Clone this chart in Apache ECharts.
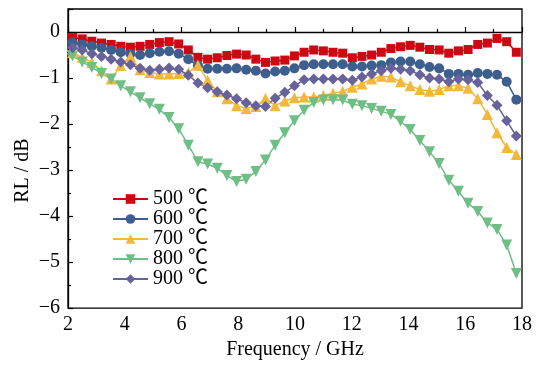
<!DOCTYPE html>
<html>
<head>
<meta charset="utf-8">
<script src="https://cdn.jsdelivr.net/npm/echarts@6/dist/echarts.min.js"></script>
<style>
html,body{margin:0;padding:0;background:#fff;}
#chart{width:539px;height:365px;}
</style>
</head>
<body>
<div id="chart"></div>
<script>
var freq = [1.82, 2.16, 2.50, 2.84, 3.18, 3.52, 3.86, 4.20, 4.54, 4.88, 5.22, 5.56, 5.90, 6.24, 6.58, 6.92,
  7.26, 7.60, 7.94, 8.28, 8.62, 8.96, 9.30, 9.64, 9.98, 10.32, 10.66, 11.00, 11.34, 11.68, 12.02, 12.36,
  12.70, 13.04, 13.38, 13.72, 14.06, 14.40, 14.74, 15.08, 15.42, 15.76, 16.10, 16.44, 16.78, 17.12, 17.46, 17.80];

var rl500 = [-0.07, -0.12, -0.15, -0.20, -0.24, -0.27, -0.31, -0.33, -0.31, -0.27, -0.23, -0.21, -0.26, -0.39, -0.55, -0.59,
  -0.56, -0.51, -0.48, -0.50, -0.59, -0.66, -0.63, -0.61, -0.52, -0.44, -0.39, -0.41, -0.44, -0.46, -0.56, -0.53,
  -0.50, -0.44, -0.36, -0.32, -0.29, -0.33, -0.38, -0.39, -0.46, -0.41, -0.38, -0.27, -0.24, -0.14, -0.21, -0.44];

var rl600 = [-0.18, -0.23, -0.27, -0.31, -0.34, -0.39, -0.44, -0.47, -0.50, -0.46, -0.43, -0.42, -0.47, -0.59, -0.73, -0.80,
  -0.80, -0.80, -0.79, -0.82, -0.84, -0.90, -0.86, -0.84, -0.79, -0.72, -0.70, -0.70, -0.70, -0.70, -0.75, -0.75,
  -0.73, -0.72, -0.66, -0.64, -0.64, -0.70, -0.76, -0.79, -0.91, -0.91, -0.93, -0.89, -0.91, -0.93, -1.08, -1.47];

var rl700 = [-0.38, -0.45, -0.55, -0.66, -0.84, -1.02, -0.73, -0.53, -0.82, -0.88, -0.91, -0.91, -0.90, -0.88, -0.72, -1.05,
  -1.30, -1.45, -1.60, -1.66, -1.62, -1.44, -1.60, -1.50, -1.43, -1.41, -1.41, -1.38, -1.33, -1.29, -1.20, -1.13,
  -1.02, -0.96, -0.98, -1.08, -1.17, -1.25, -1.29, -1.25, -1.17, -1.17, -1.22, -1.45, -1.79, -2.19, -2.51, -2.66];

var rl800 = [-0.44, -0.52, -0.65, -0.77, -0.90, -1.02, -1.17, -1.30, -1.43, -1.56, -1.68, -1.86, -2.10, -2.46, -2.82, -2.87,
  -2.96, -3.12, -3.25, -3.20, -3.03, -2.78, -2.46, -2.19, -1.93, -1.70, -1.53, -1.48, -1.47, -1.48, -1.57, -1.60,
  -1.66, -1.72, -1.79, -1.94, -2.12, -2.36, -2.60, -2.86, -3.22, -3.46, -3.72, -3.90, -4.15, -4.29, -4.63, -5.25];

var rl900 = [-0.28, -0.34, -0.39, -0.47, -0.53, -0.59, -0.65, -0.71, -0.79, -0.83, -0.81, -0.78, -0.81, -0.94, -1.11, -1.21,
  -1.30, -1.37, -1.45, -1.54, -1.60, -1.62, -1.44, -1.31, -1.17, -1.04, -1.02, -1.02, -1.02, -1.02, -1.05, -0.98,
  -0.91, -0.84, -0.79, -0.81, -0.84, -0.93, -1.00, -1.02, -1.08, -1.02, -1.04, -1.10, -1.38, -1.59, -1.93, -2.26];

var seriesNames = ['500 ℃', '600 ℃', '700 ℃', '800 ℃', '900 ℃'];
var xTickLabels = ['2', '4', '6', '8', '10', '12', '14', '16', '18'];
var yTickLabels = ['−6', '−5', '−4', '−3', '−2', '−1', '0'];

var seriesValues = [rl500, rl600, rl700, rl800, rl900];
var colors = ['#cc0812', '#3d5f8e', '#f2b83a', '#6fbe86', '#67629a'];
var symbols = ['rect', 'circle', 'triangle', 'triangle', 'diamond'];
var symbolSizes = [9, 10, 11, 11, 11];
var symbolRot = [0, 0, 0, 180, 0];

function pairs(vals) {
  return freq.map(function (f, i) { return [f, vals[i]]; });
}

var font = '"Liberation Serif", "Times New Roman", "Noto Sans CJK SC", serif';

var series = seriesNames.map(function (name, k) {
  return {
    name: name,
    type: 'line',
    data: pairs(seriesValues[k]),
    symbol: symbols[k],
    symbolSize: symbolSizes[k],
    symbolRotate: symbolRot[k],
    showAllSymbol: true,
    lineStyle: { color: colors[k], width: 1.5 },
    itemStyle: { color: colors[k] },
    emphasis: { disabled: true },
    animation: false
  };
});

var chart = echarts.init(document.getElementById('chart'), null, { renderer: 'canvas' });
chart.setOption({
  backgroundColor: '#fff',
  animation: false,
  color: colors,
  grid: {
    left: 68, right: 17, top: 9, bottom: 52,
    show: true, borderColor: '#000', borderWidth: 1.3, backgroundColor: 'transparent'
  },
  legend: {
    orient: 'vertical',
    left: 112, top: 189, padding: 0,
    itemWidth: 35, itemHeight: 12, itemGap: 0,
    textStyle: { fontFamily: font, fontSize: 20, color: '#000', lineHeight: 19.3 },
    data: seriesNames
  },
  xAxis: {
    type: 'value', min: 2, max: 18, interval: 2,
    name: 'Frequency / GHz', nameLocation: 'middle', nameGap: 27,
    nameTextStyle: { fontFamily: font, fontSize: 20, color: '#000' },
    axisLine: { lineStyle: { color: '#000', width: 1.3 } },
    axisTick: { inside: true, length: 5, lineStyle: { color: '#000', width: 1.2 } },
    minorTick: { show: true, splitNumber: 2, length: 3, lineStyle: { color: '#000', width: 1.2 } },
    splitLine: { show: false },
    axisLabel: {
      fontFamily: font, fontSize: 20, color: '#000', margin: 7,
      formatter: function (v) { var i = Math.round((v - 2) / 2); return xTickLabels[i] !== undefined ? xTickLabels[i] : ''; }
    }
  },
  yAxis: {
    type: 'value', min: -6, max: 0.5, interval: 1,
    name: 'RL / dB', nameLocation: 'middle', nameGap: 35, nameMoveOverlap: false,
    nameTextStyle: { fontFamily: font, fontSize: 20, color: '#000', padding: [0, 24, 0, 0] },
    axisLine: { show: true, lineStyle: { color: '#000', width: 1.3 } },
    axisTick: { inside: true, length: 5, lineStyle: { color: '#000', width: 1.2 } },
    minorTick: { show: true, splitNumber: 2, length: 3, lineStyle: { color: '#000', width: 1.2 } },
    splitLine: { show: false },
    axisLabel: {
      fontFamily: font, fontSize: 20, color: '#000', margin: 8, showMaxLabel: false,
      formatter: function (v) {
        if (v > 0) return '';
        var i = Math.round(v + 6);
        return yTickLabels[i] !== undefined ? yTickLabels[i] : '';
      }
    }
  },
  series: series
});
</script>
</body>
</html>
